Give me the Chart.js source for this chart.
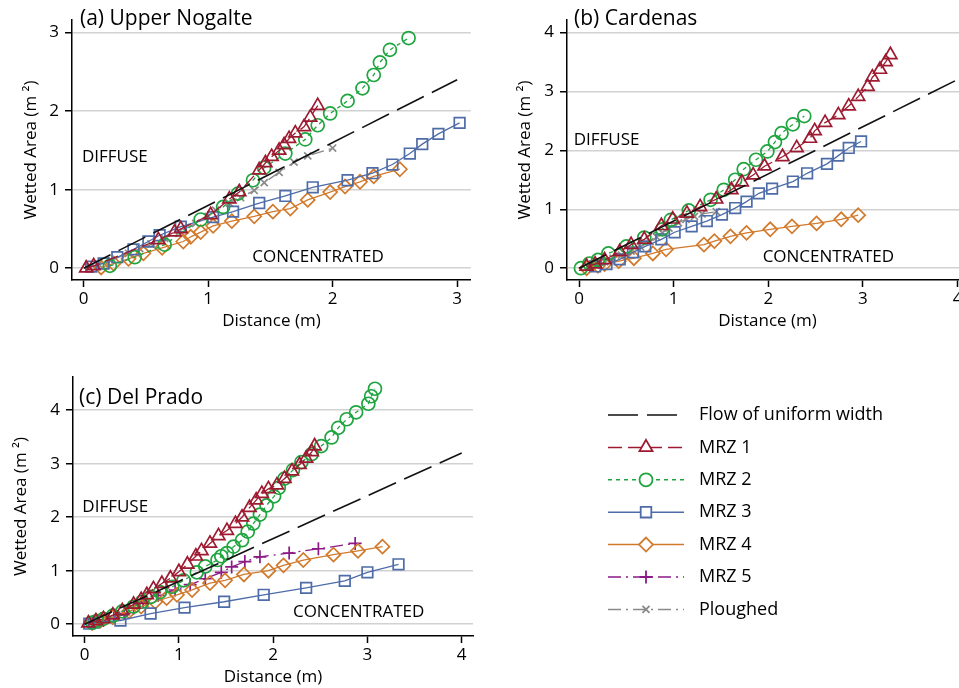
<!DOCTYPE html>
<html>
<head>
<meta charset="utf-8">
<script src="https://cdn.jsdelivr.net/npm/chart.js@4.4.0/dist/chart.umd.min.js"></script>
<style>
html, body { margin: 0; padding: 0; background: #fff; width: 959px; height: 688px; overflow: hidden; }
.panel { position: absolute; }
</style>
</head>
<body>
<div class="panel" style="left:0;top:0"><canvas id="chartA" width="480" height="335"></canvas></div>
<div class="panel" style="left:480px;top:0"><canvas id="chartB" width="500" height="335"></canvas></div>
<div class="panel" style="left:0;top:345px"><canvas id="chartC" width="959" height="343"></canvas></div>
<script>
// tick values
const xTicksA = [0, 1, 2, 3];
const yTicksA = [0, 1, 2, 3];
const xTicksB = [0, 1, 2, 3, 4];
const yTicksB = [0, 1, 2, 3, 4];
const xTicksC = [0, 1, 2, 3, 4];
const yTicksC = [0, 1, 2, 3, 4];

const seriesNames = ["Flow of uniform width", "MRZ 1", "MRZ 2", "MRZ 3", "MRZ 4", "MRZ 5", "Ploughed"];

// (a) Upper Nogalte  [distance m, wetted area m2]
const aFlow = [[0, 0], [3, 2.4]];
const aMRZ1 = [[0.02,0.0],[0.08,0.03],[0.6,0.36],[0.73,0.46],[0.78,0.5],[1.02,0.68],[1.17,0.88],[1.25,0.97],[1.41,1.25],[1.46,1.34],[1.51,1.42],[1.57,1.5],[1.61,1.57],[1.65,1.65],[1.7,1.72],[1.77,1.8],[1.82,1.92],[1.88,2.07]];
const aMRZ2 = [[0.21,0.03],[0.41,0.14],[0.65,0.3],[0.94,0.62],[1.12,0.78],[1.24,0.95],[1.36,1.12],[1.45,1.28],[1.62,1.46],[1.78,1.64],[1.88,1.82],[1.98,1.97],[2.12,2.13],[2.24,2.29],[2.33,2.46],[2.38,2.62],[2.46,2.78],[2.61,2.93]];
const aMRZ3 = [[0.06,0.02],[0.16,0.06],[0.27,0.14],[0.4,0.24],[0.52,0.34],[0.61,0.42],[0.78,0.53],[1.04,0.65],[1.2,0.72],[1.41,0.83],[1.62,0.92],[1.84,1.03],[2.12,1.12],[2.32,1.21],[2.48,1.32],[2.62,1.46],[2.72,1.58],[2.85,1.71],[3.02,1.85]];
const aMRZ4 = [[0.14,0.01],[0.24,0.06],[0.36,0.12],[0.48,0.19],[0.63,0.26],[0.8,0.34],[0.86,0.4],[0.94,0.46],[1.04,0.54],[1.19,0.6],[1.37,0.66],[1.52,0.72],[1.66,0.76],[1.8,0.87],[1.98,0.97],[2.1,1.04],[2.22,1.1],[2.33,1.17],[2.54,1.26]];
const aPlough = [[0.05,0.01],[0.12,0.05],[0.22,0.1],[0.36,0.19],[0.45,0.25],[0.54,0.31],[0.65,0.38],[0.77,0.47],[0.9,0.57],[1.0,0.66],[1.06,0.74],[1.17,0.83],[1.26,0.9],[1.37,0.99],[1.45,1.09],[1.57,1.22],[1.69,1.35],[1.8,1.43],[2.0,1.53]];

// (b) Cardenas
const bFlow = [[0, 0], [4, 3.2]];
const bMRZ1 = [[0.08,0.03],[0.17,0.07],[0.27,0.14],[0.43,0.28],[0.55,0.4],[0.69,0.49],[0.87,0.72],[0.99,0.83],[1.14,0.93],[1.28,1.04],[1.45,1.17],[1.61,1.33],[1.72,1.46],[1.84,1.58],[1.96,1.73],[2.15,1.89],[2.3,2.04],[2.44,2.2],[2.49,2.33],[2.6,2.47],[2.74,2.6],[2.85,2.75],[2.95,2.91],[3.05,3.08],[3.1,3.24],[3.18,3.37],[3.24,3.5],[3.29,3.62]];
const bMRZ2 = [[0.02,0.0],[0.11,0.08],[0.2,0.14],[0.31,0.25],[0.5,0.37],[0.69,0.52],[0.88,0.66],[0.97,0.82],[1.16,0.98],[1.39,1.16],[1.53,1.33],[1.65,1.5],[1.74,1.68],[1.87,1.84],[1.99,1.98],[2.07,2.14],[2.14,2.29],[2.26,2.44],[2.38,2.58]];
const bMRZ3 = [[0.17,0.03],[0.29,0.07],[0.43,0.15],[0.57,0.27],[0.7,0.37],[0.87,0.49],[1.01,0.61],[1.19,0.71],[1.35,0.8],[1.51,0.91],[1.65,1.02],[1.77,1.13],[1.9,1.27],[2.04,1.35],[2.26,1.47],[2.41,1.61],[2.62,1.77],[2.74,1.91],[2.85,2.04],[2.98,2.15]];
const bMRZ4 = [[0.08,0.0],[0.2,0.04],[0.27,0.07],[0.42,0.12],[0.58,0.17],[0.78,0.25],[0.92,0.32],[1.32,0.4],[1.43,0.46],[1.6,0.54],[1.77,0.6],[2.02,0.66],[2.25,0.71],[2.51,0.76],[2.77,0.83],[2.95,0.9]];
const bPlough = [[0.1,0.02],[0.17,0.06],[0.27,0.11],[0.36,0.17],[0.45,0.22],[0.55,0.29],[0.65,0.36],[0.75,0.45],[0.82,0.53],[0.88,0.6],[0.95,0.68],[1.05,0.77],[1.13,0.83],[1.22,0.88],[1.3,0.92],[1.45,0.96]];

// (c) Del Prado
const cFlow = [[0, 0], [4, 3.2]];
const cMRZ1 = [[0.04,0.02],[0.12,0.06],[0.2,0.1],[0.3,0.17],[0.4,0.25],[0.52,0.37],[0.6,0.46],[0.66,0.55],[0.73,0.66],[0.82,0.76],[0.91,0.86],[1.0,0.98],[1.09,1.12],[1.18,1.27],[1.24,1.37],[1.33,1.51],[1.42,1.65],[1.51,1.75],[1.6,1.88],[1.67,2.0],[1.75,2.18],[1.82,2.32],[1.88,2.44],[1.95,2.53],[2.04,2.6],[2.12,2.72],[2.2,2.86],[2.28,2.98],[2.35,3.1],[2.41,3.22],[2.44,3.33]];
const cMRZ2 = [[0.08,0.03],[0.13,0.06],[0.2,0.1],[0.3,0.16],[0.4,0.24],[0.52,0.33],[0.61,0.42],[0.7,0.51],[0.8,0.6],[0.93,0.7],[1.05,0.82],[1.19,0.97],[1.28,1.08],[1.41,1.2],[1.45,1.27],[1.51,1.33],[1.58,1.45],[1.67,1.57],[1.73,1.73],[1.79,1.88],[1.86,2.05],[1.93,2.22],[2.01,2.39],[2.06,2.55],[2.12,2.72],[2.21,2.88],[2.3,3.03],[2.41,3.18],[2.51,3.33],[2.62,3.49],[2.69,3.67],[2.78,3.83],[2.88,3.96],[3.01,4.12],[3.04,4.26],[3.08,4.4]];
const cMRZ3 = [[0.05,0.01],[0.1,0.03],[0.38,0.07],[0.7,0.2],[1.06,0.31],[1.48,0.42],[1.9,0.55],[2.35,0.68],[2.76,0.81],[3.0,0.97],[3.33,1.12]];
const cMRZ4 = [[0.08,0.02],[0.17,0.07],[0.3,0.13],[0.47,0.24],[0.6,0.33],[0.75,0.42],[0.87,0.49],[0.98,0.55],[1.14,0.64],[1.33,0.77],[1.49,0.82],[1.69,0.93],[1.95,1.0],[2.11,1.1],[2.32,1.2],[2.64,1.3],[2.9,1.37],[3.16,1.45]];
const cMRZ5 = [[0.1,0.03],[0.2,0.07],[0.31,0.13],[0.42,0.2],[0.52,0.3],[0.62,0.42],[0.78,0.54],[0.96,0.64],[1.12,0.74],[1.28,0.85],[1.45,0.97],[1.56,1.07],[1.7,1.17],[1.86,1.26],[2.17,1.33],[2.48,1.41],[2.87,1.51]];

const FONT = "'Open Sans', sans-serif";
Chart.defaults.font.family = FONT;
Chart.defaults.font.size = 17;
Chart.defaults.color = "#000";

const styles = {
    "Flow of uniform width": {color: "#111111", dash: [30, 9], point: false, width: 1.6},
    "MRZ 1": {color: "#9e1a30", dash: [14, 6], point: "triangle", r: 7.5},
    "MRZ 2": {color: "#1fa53f", dash: [4, 4], point: "circle", r: 6.5},
    "MRZ 3": {color: "#4e6ca8", dash: [], point: "rect", r: 7.5},
    "MRZ 4": {color: "#d27a2c", dash: [], point: "rectRot", r: 7},
    "MRZ 5": {color: "#8a1a86", dash: [13, 5, 2, 5], point: "cross", r: 6.5},
    "Ploughed": {color: "#8a8a8a", dash: [13, 5, 2, 5], point: "crossRot", r: 5}
};

function ds(name, pts) {
    const s = styles[name];
    return {
        label: name,
        data: pts.map(p => ({x: p[0], y: p[1]})),
        showLine: true,
        borderColor: s.color,
        borderWidth: s.width || 1.3,
        borderDash: s.dash,
        pointStyle: s.point || "circle",
        pointRadius: s.point ? s.r : 0,
        pointHoverRadius: s.point ? s.r : 0,
        pointBorderColor: s.color,
        pointBackgroundColor: "rgba(0,0,0,0)",
        pointBorderWidth: 1.7,
        fill: false,
        tension: 0
    };
}

// panel label + DIFFUSE / CONCENTRATED
const panelText = {
    id: "panelText",
    afterDraw(chart, args, o) {
        const {ctx, chartArea: a, scales: {x, y}} = chart;
        ctx.save();
        ctx.fillStyle = "#000";
        ctx.textAlign = "left";
        ctx.textBaseline = "middle";
        ctx.font = "21px " + FONT;
        ctx.fillText(o.title, a.left + o.titleDx, a.top + o.titleDy);
        ctx.font = "17px " + FONT;
        o.notes.forEach(n => ctx.fillText(n.text, x.getPixelForValue(n.x), y.getPixelForValue(n.y)));
        ctx.restore();
    }
};

function marker(ctx, style, x, y, r) {
    ctx.beginPath();
    if (style === "circle") {
        ctx.arc(x, y, r, 0, Math.PI * 2);
    } else if (style === "triangle") {
        ctx.moveTo(x, y - r);
        ctx.lineTo(x + r * 0.866, y + r * 0.5);
        ctx.lineTo(x - r * 0.866, y + r * 0.5);
        ctx.closePath();
    } else if (style === "rect") {
        const s = r * Math.SQRT1_2;
        ctx.rect(x - s, y - s, 2 * s, 2 * s);
    } else if (style === "rectRot") {
        ctx.moveTo(x, y - r); ctx.lineTo(x + r, y); ctx.lineTo(x, y + r); ctx.lineTo(x - r, y);
        ctx.closePath();
    } else if (style === "cross") {
        ctx.moveTo(x - r, y); ctx.lineTo(x + r, y); ctx.moveTo(x, y - r); ctx.lineTo(x, y + r);
    } else if (style === "crossRot") {
        const s = r * Math.SQRT1_2;
        ctx.moveTo(x - s, y - s); ctx.lineTo(x + s, y + s); ctx.moveTo(x - s, y + s); ctx.lineTo(x + s, y - s);
    }
    ctx.fill();
    ctx.stroke();
}

const legendPlugin = {
    id: "sideLegend",
    afterDraw(chart, args, o) {
        const ctx = chart.ctx;
        ctx.save();
        seriesNames.forEach((name, i) => {
            const s = styles[name];
            const y = o.top + i * o.step;
            const mid = (o.x0 + o.x1) / 2;
            ctx.strokeStyle = s.color;
            ctx.lineWidth = s.width || 1.5;
            ctx.setLineDash(s.dash);
            ctx.beginPath();
            ctx.moveTo(o.x0, y);
            ctx.lineTo(o.x1, y);
            ctx.stroke();
            ctx.setLineDash([]);
            if (s.point) {
                ctx.fillStyle = "#fff";
                ctx.lineWidth = 1.8;
                marker(ctx, s.point, mid, y, s.r);
            }
            ctx.fillStyle = "#000";
            ctx.font = "18px " + FONT;
            ctx.textAlign = "left";
            ctx.textBaseline = "middle";
            ctx.fillText(name, o.textX, y);
        });
        ctx.restore();
    }
};

function makePanel(id, box, range, ticks, datasets, text, extra) {
    const plugins = [panelText].concat(extra ? [extra] : []);
    return new Chart(document.getElementById(id), {
        type: "scatter",
        data: {datasets: datasets},
        plugins: plugins,
        options: {
            responsive: false,
            animation: false,
            layout: {padding: {left: 0, top: box.top - box.T, right: box.L + box.W - box.right, bottom: 0}},
            plugins: {
                legend: {display: false},
                tooltip: {enabled: false},
                panelText: text,
                sideLegend: box.legend || {}
            },
            scales: {
                x: {
                    type: "linear",
                    min: range.x[0], max: range.x[1],
                    afterBuildTicks: s => { s.ticks = ticks.x.map(v => ({value: v})); },
                    afterFit: s => { s.height = box.T + box.H - box.bottom; },
                    grid: {drawOnChartArea: false, tickLength: 7, tickColor: "#000", tickWidth: 1.5},
                    border: {color: "#000", width: 1.5},
                    ticks: {padding: 2, autoSkip: false, maxRotation: 0, color: "#000"},
                    title: {display: true, text: "Distance (m)", color: "#000", padding: {top: 0, bottom: box.xTitlePad}}
                },
                y: {
                    type: "linear",
                    min: range.y[0], max: range.y[1],
                    afterBuildTicks: s => { s.ticks = ticks.y.map(v => ({value: v})); },
                    afterFit: s => { s.width = box.left - box.L; },
                    grid: {color: "#d2d2d2", lineWidth: 1.5, tickLength: 7, tickColor: "#000", tickWidth: 1.5},
                    border: {color: "#000", width: 1.5},
                    ticks: {padding: 6, color: "#000"},
                    title: {display: true, text: "Wetted Area (m \u00b2)", color: "#000", padding: {top: box.yTitlePad, bottom: 0}}
                }
            }
        }
    });
}

makePanel("chartA",
    {L: 0, T: 0, W: 480, H: 335, left: 72, top: 20, right: 473, bottom: 280, xTitlePad: 4, yTitlePad: 21},
    {x: [-0.094, 3.11], y: [-0.15, 3.16]},
    {x: xTicksA, y: yTicksA},
    [ds(seriesNames[0], aFlow), ds("MRZ 1", aMRZ1), ds("MRZ 2", aMRZ2), ds("MRZ 3", aMRZ3), ds("MRZ 4", aMRZ4), ds("Ploughed", aPlough)],
    {title: "(a) Upper Nogalte", titleDx: 8, titleDy: -1,
     notes: [{text: "DIFFUSE", x: -0.014, y: 1.41}, {text: "CONCENTRATED", x: 1.355, y: 0.14}]});

makePanel("chartB",
    {L: 480, T: 0, W: 500, H: 335, left: 567, top: 20, right: 968, bottom: 280, xTitlePad: 4, yTitlePad: 35},
    {x: [-0.127, 4.11], y: [-0.2, 4.21]},
    {x: xTicksB, y: yTicksB},
    [ds(seriesNames[0], bFlow), ds("MRZ 1", bMRZ1), ds("MRZ 2", bMRZ2), ds("MRZ 3", bMRZ3), ds("MRZ 4", bMRZ4), ds("Ploughed", bPlough)],
    {title: "(b) Cardenas", titleDx: 7, titleDy: -1,
     notes: [{text: "DIFFUSE", x: -0.056, y: 2.17}, {text: "CONCENTRATED", x: 1.94, y: 0.19}]});

makePanel("chartC",
    {L: 0, T: 345, W: 959, H: 343, left: 73, top: 377, right: 473, bottom: 636, xTitlePad: 1, yTitlePad: 11,
     legend: {x0: 608, x1: 684, textX: 699, top: 415 - 345, step: 32.4}},
    {x: [-0.123, 4.12], y: [-0.22, 4.62]},
    {x: xTicksC, y: yTicksC},
    [ds(seriesNames[0], cFlow), ds("MRZ 1", cMRZ1), ds("MRZ 2", cMRZ2), ds("MRZ 3", cMRZ3), ds("MRZ 4", cMRZ4), ds("MRZ 5", cMRZ5)],
    {title: "(c) Del Prado", titleDx: 6, titleDy: 21,
     notes: [{text: "DIFFUSE", x: -0.024, y: 2.19}, {text: "CONCENTRATED", x: 2.21, y: 0.22}]},
    legendPlugin);
</script>
</body>
</html>
